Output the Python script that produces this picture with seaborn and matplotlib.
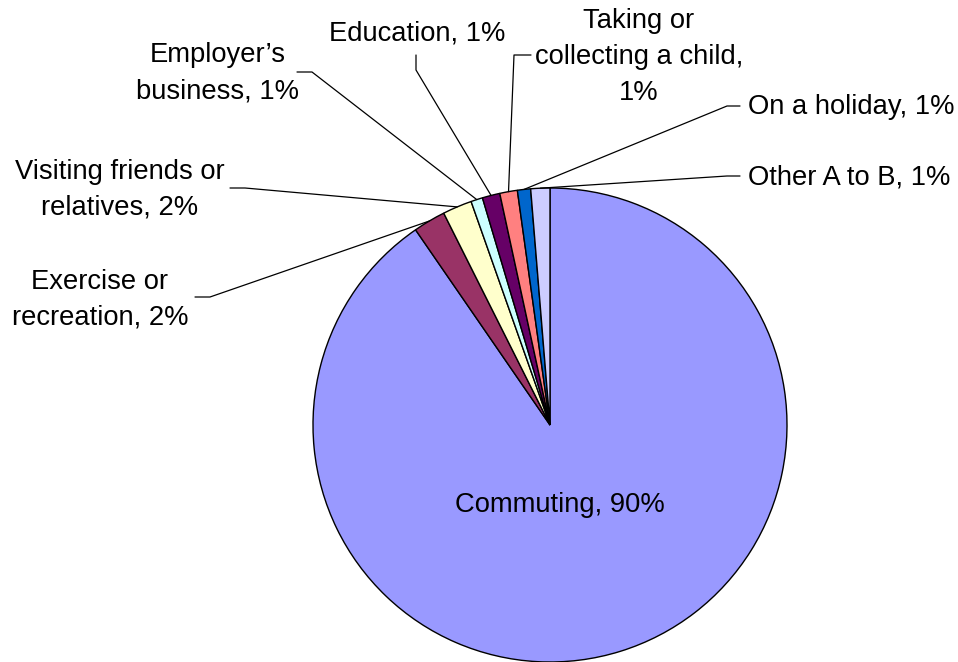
import numpy as np
import matplotlib
matplotlib.use("Agg")
import matplotlib.pyplot as plt
import seaborn as sns

# journey purposes (share of trips, %)
purposes = ["Commuting", "Exercise or\nrecreation", "Visiting friends or\nrelatives",
            "Employer\u2019s\nbusiness", "Education", "Taking or\ncollecting a child",
            "On a holiday", "Other A to B"]
shares = [90.4, 2.2, 2.0, 0.8, 1.2, 1.2, 0.9, 1.3]
colors = ["#9999FF", "#993366", "#FFFFCC", "#CCFFFF", "#660066", "#FF8080", "#0066CC", "#CCCCFF"]

W, H = 958, 662
sns.set_theme(style="white")
plt.rcParams["font.family"] = ["Liberation Sans", "DejaVu Sans"]

fig = plt.figure(figsize=(W / 100, H / 100), dpi=100)
ax = fig.add_axes([0, 0, 1, 1])

cx, cy, r = 550, H - 425, 237
wedges, _ = ax.pie(shares, colors=colors, startangle=90, counterclock=False,
                   center=(cx, cy), radius=r,
                   wedgeprops=dict(edgecolor="black", linewidth=1))
ax.set_xlim(0, W)
ax.set_ylim(0, H)
ax.set_aspect("equal")
ax.axis("off")


def lab(i):
    # the child label breaks the line before the percentage
    sep = ",\n" if i == 5 else ", "
    return f"{purposes[i]}{sep}{shares[i]:.0f}%"


# label placement in pixel coords: (x, y, ha, attach point, elbow point)
layout = {
    1: (100, 300, "center", (195, 297), (210, 297)),
    2: (120, 190, "center", (230, 188), (245, 188)),
    3: (218, 73, "center", (297, 72), (312, 72)),
    4: (417, 33, "center", (416, 55), (416, 70)),
    5: (639, 57, "center", (531, 55), (514, 55)),
    6: (748, 107, "left", (740, 106), (727, 106)),
    7: (748, 178, "left", (740, 176), (727, 176)),
}

fs = 19.7
ax.text(560, H - 505, lab(0), fontsize=fs, ha="center", va="center", color="black")

for i, (tx, ty, ha, p0, p1) in layout.items():
    ax.text(tx, H - ty, lab(i), fontsize=fs, ha=ha, va="center",
            multialignment="center", linespacing=1.5, color="black")
    w = wedges[i]
    mid = np.deg2rad((w.theta1 + w.theta2) / 2)
    ex, ey = cx + r * np.cos(mid), cy + r * np.sin(mid)
    ax.plot([p0[0], p1[0], ex], [H - p0[1], H - p1[1], ey], color="black", lw=0.9)

fig.savefig("out.png", dpi=100, facecolor="white")
